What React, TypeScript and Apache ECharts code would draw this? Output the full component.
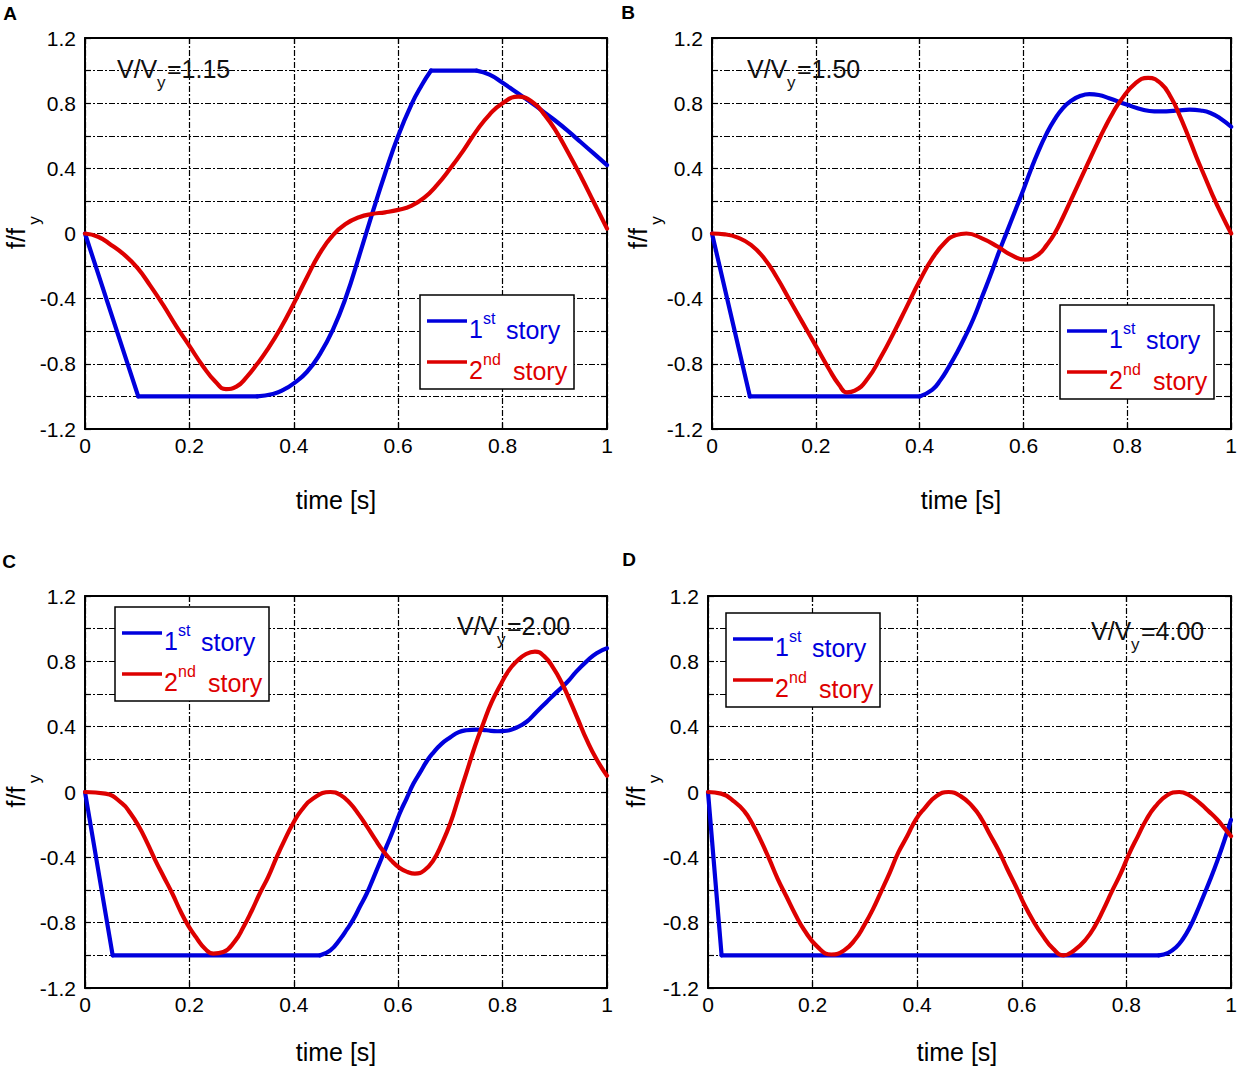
import React, { useEffect, useRef } from "react";
import * as echarts from "echarts";

// ---------- data (time [s], f/fy) ----------
const X_TICK_LABELS = ["0", "0.2", "0.4", "0.6", "0.8", "1"];
const Y_TICK_LABELS = ["-1.2", "-0.8", "-0.4", "0", "0.4", "0.8", "1.2"];
const SERIES_NAMES = ["1st story", "2nd story"];
const PANEL_LETTERS = ["A", "B", "C", "D"];
const RATIOS = ["=1.15", "=1.50", "=2.00", "=4.00"];

// Panel A (V/Vy = 1.15)
const A_STORY1 = [[0, 0], [0.102, -1], [0.33, -1], [0.36, -0.985], [0.38, -0.96], [0.4, -0.92], [0.425, -0.85], [0.45, -0.74], [0.475, -0.59], [0.5, -0.39], [0.525, -0.14], [0.55, 0.12], [0.575, 0.37], [0.6, 0.6], [0.625, 0.79], [0.645, 0.91], [0.663, 1], [0.75, 1], [0.775, 0.975], [0.8, 0.925], [0.825, 0.87], [0.85, 0.815], [0.875, 0.755], [0.9, 0.695], [0.925, 0.63], [0.95, 0.56], [0.975, 0.49], [1, 0.42]];
const A_STORY1_CORNERS = [1, 2, 16, 17];
const A_STORY2 = [[0, 0], [0.025, -0.02], [0.05, -0.07], [0.075, -0.13], [0.1, -0.21], [0.125, -0.32], [0.15, -0.44], [0.175, -0.57], [0.2, -0.69], [0.225, -0.81], [0.25, -0.91], [0.27, -0.955], [0.29, -0.94], [0.31, -0.88], [0.33, -0.8], [0.35, -0.71], [0.375, -0.58], [0.4, -0.43], [0.425, -0.27], [0.45, -0.12], [0.475, -0.01], [0.5, 0.06], [0.525, 0.1], [0.55, 0.12], [0.575, 0.13], [0.6, 0.145], [0.625, 0.17], [0.65, 0.22], [0.675, 0.3], [0.7, 0.4], [0.725, 0.51], [0.75, 0.63], [0.775, 0.73], [0.8, 0.8], [0.83, 0.84], [0.86, 0.8], [0.88, 0.73], [0.9, 0.64], [0.925, 0.5], [0.95, 0.35], [0.975, 0.19], [1, 0.03]];

// Panel B (V/Vy = 1.50)
const B_STORY1 = [[0, 0], [0.073, -1], [0.4, -1], [0.424, -0.96], [0.44, -0.9], [0.456, -0.82], [0.472, -0.73], [0.488, -0.63], [0.504, -0.52], [0.52, -0.39], [0.536, -0.26], [0.552, -0.12], [0.568, 0.01], [0.584, 0.14], [0.6, 0.27], [0.614, 0.39], [0.628, 0.5], [0.644, 0.61], [0.66, 0.7], [0.676, 0.77], [0.692, 0.815], [0.71, 0.845], [0.727, 0.855], [0.745, 0.85], [0.765, 0.83], [0.8, 0.79], [0.83, 0.76], [0.852, 0.75], [0.875, 0.75], [0.897, 0.755], [0.92, 0.76], [0.941, 0.755], [0.96, 0.74], [0.98, 0.705], [1, 0.655]];
const B_STORY1_CORNERS = [1, 2];
const B_STORY2 = [[0, 0], [0.025, -0.005], [0.05, -0.025], [0.075, -0.07], [0.1, -0.15], [0.125, -0.27], [0.15, -0.41], [0.175, -0.55], [0.2, -0.69], [0.225, -0.83], [0.245, -0.93], [0.26, -0.975], [0.275, -0.965], [0.3, -0.89], [0.325, -0.76], [0.35, -0.61], [0.375, -0.45], [0.4, -0.29], [0.425, -0.15], [0.45, -0.05], [0.47, -0.01], [0.49, 0], [0.52, -0.03], [0.55, -0.08], [0.575, -0.13], [0.603, -0.16], [0.628, -0.13], [0.645, -0.07], [0.66, 0], [0.676, 0.1], [0.692, 0.21], [0.708, 0.32], [0.724, 0.43], [0.74, 0.54], [0.756, 0.645], [0.772, 0.74], [0.788, 0.82], [0.815, 0.92], [0.84, 0.955], [0.865, 0.92], [0.885, 0.83], [0.9, 0.73], [0.917, 0.6], [0.933, 0.47], [0.949, 0.35], [0.965, 0.23], [0.981, 0.12], [1, 0]];

// Panel C (V/Vy = 2.00)
const C_STORY1 = [[0, 0], [0.053, -1], [0.45, -1], [0.47, -0.97], [0.489, -0.9], [0.502, -0.84], [0.514, -0.78], [0.527, -0.7], [0.54, -0.62], [0.552, -0.53], [0.565, -0.43], [0.578, -0.33], [0.591, -0.23], [0.603, -0.13], [0.616, -0.04], [0.629, 0.05], [0.642, 0.12], [0.655, 0.19], [0.667, 0.24], [0.683, 0.295], [0.7, 0.335], [0.715, 0.365], [0.731, 0.378], [0.75, 0.382], [0.769, 0.378], [0.79, 0.372], [0.808, 0.375], [0.827, 0.395], [0.846, 0.43], [0.865, 0.49], [0.884, 0.55], [0.903, 0.61], [0.923, 0.67], [0.942, 0.74], [0.961, 0.8], [0.98, 0.85], [1, 0.88]];
const C_STORY1_CORNERS = [1, 2];
const C_STORY2 = [[0, 0], [0.039, -0.01], [0.071, -0.07], [0.087, -0.13], [0.103, -0.21], [0.119, -0.31], [0.135, -0.42], [0.151, -0.52], [0.167, -0.62], [0.183, -0.73], [0.198, -0.82], [0.215, -0.9], [0.23, -0.96], [0.246, -0.99], [0.265, -0.98], [0.288, -0.91], [0.303, -0.83], [0.319, -0.73], [0.335, -0.62], [0.351, -0.52], [0.367, -0.4], [0.383, -0.29], [0.399, -0.19], [0.415, -0.11], [0.437, -0.04], [0.47, 0], [0.49, -0.02], [0.508, -0.07], [0.525, -0.14], [0.54, -0.21], [0.556, -0.29], [0.571, -0.36], [0.587, -0.42], [0.603, -0.465], [0.618, -0.49], [0.632, -0.5], [0.65, -0.48], [0.667, -0.42], [0.683, -0.32], [0.7, -0.19], [0.715, -0.04], [0.731, 0.12], [0.747, 0.28], [0.763, 0.42], [0.779, 0.55], [0.795, 0.65], [0.811, 0.74], [0.827, 0.8], [0.845, 0.845], [0.862, 0.86], [0.88, 0.83], [0.897, 0.76], [0.913, 0.67], [0.929, 0.56], [0.945, 0.44], [0.961, 0.32], [0.98, 0.2], [1, 0.1]];

// Panel D (V/Vy = 4.00)
const D_STORY1 = [[0, 0], [0.026, -1], [0.862, -1], [0.88, -0.985], [0.895, -0.95], [0.908, -0.9], [0.921, -0.83], [0.934, -0.74], [0.947, -0.64], [0.961, -0.53], [0.974, -0.42], [0.987, -0.3], [1, -0.17]];
const D_STORY1_CORNERS = [1, 2];
const D_STORY2 = [[0, 0], [0.025, -0.01], [0.051, -0.06], [0.07, -0.12], [0.084, -0.19], [0.1, -0.29], [0.117, -0.41], [0.133, -0.53], [0.15, -0.64], [0.167, -0.75], [0.183, -0.84], [0.21, -0.95], [0.236, -0.995], [0.26, -0.97], [0.282, -0.9], [0.298, -0.82], [0.315, -0.72], [0.331, -0.61], [0.348, -0.49], [0.364, -0.37], [0.381, -0.27], [0.397, -0.17], [0.414, -0.1], [0.437, -0.025], [0.46, 0], [0.483, -0.025], [0.506, -0.09], [0.522, -0.16], [0.539, -0.26], [0.556, -0.36], [0.572, -0.47], [0.589, -0.58], [0.605, -0.69], [0.622, -0.79], [0.638, -0.87], [0.66, -0.96], [0.68, -1], [0.7, -0.97], [0.723, -0.9], [0.74, -0.82], [0.756, -0.72], [0.772, -0.61], [0.789, -0.5], [0.805, -0.38], [0.822, -0.27], [0.838, -0.17], [0.855, -0.09], [0.878, -0.02], [0.901, 0], [0.92, -0.02], [0.941, -0.07], [0.958, -0.12], [0.974, -0.17], [0.987, -0.22], [1, -0.27]];

// ---------- layout / style ----------
const FONT = '"Liberation Sans", Arial, Helvetica, sans-serif';
const BLUE = "#0000DD";
const RED = "#DD0000";

const PANELS = [
  { left: 85, top: 38, width: 522, height: 391, s1: A_STORY1, c1: A_STORY1_CORNERS, s2: A_STORY2,
    legend: [420, 295], ratio: [117, 69], letter: [10, 13], xTitle: [336, 500], yTitle: 16 },
  { left: 712, top: 38, width: 522, height: 391, s1: B_STORY1, c1: B_STORY1_CORNERS, s2: B_STORY2,
    legend: [1060, 305], ratio: [747, 69], letter: [628, 12], xTitle: [961, 500], yTitle: 638 },
  { left: 85, top: 596, width: 522, height: 392, s1: C_STORY1, c1: C_STORY1_CORNERS, s2: C_STORY2,
    legend: [115, 607], ratio: [457, 626], letter: [9, 561], xTitle: [336, 1052], yTitle: 16 },
  { left: 708, top: 596, width: 523, height: 392, s1: D_STORY1, c1: D_STORY1_CORNERS, s2: D_STORY2,
    legend: [726, 613], ratio: [1091, 631], letter: [629, 559], xTitle: [957, 1052], yTitle: 636 },
];

function splitAt(pts: number[][], corners: number[]) {
  const cuts = [0, ...corners, pts.length - 1];
  const out: number[][][] = [];
  for (let i = 0; i < cuts.length - 1; i++) out.push(pts.slice(cuts[i], cuts[i + 1] + 1));
  return out;
}

function txt(x: number, y: number, text: string, size: number, fill: string, extra: any = {}) {
  const align = extra.align || "left";
  return {
    type: "text",
    x,
    y,
    z: 100,
    rotation: extra.rotation || 0,
    silent: true,
    style: {
      text,
      fill,
      font: `${extra.bold ? "bold " : ""}${size}px ${FONT}`,
      textAlign: align,
      align,
      textVerticalAlign: "middle",
      verticalAlign: "middle",
    },
  };
}

function buildOption() {
  const grid: any[] = [];
  const xAxis: any[] = [];
  const yAxis: any[] = [];
  const series: any[] = [];
  const graphic: any[] = [];

  const frameLine = { show: true, onZero: false, lineStyle: { color: "#000", width: 2 } };
  const tick = { show: true, inside: true, length: 6, lineStyle: { color: "#000", width: 1.2 } };
  const split = { show: true, lineStyle: { color: "#000", width: 1.2, type: [6, 2, 2, 2] } };

  PANELS.forEach((p, i) => {
    grid.push({ left: p.left, top: p.top, width: p.width, height: p.height });
    const xBase = { type: "value", gridIndex: i, min: 0, max: 1, interval: 0.2 };
    const yBase = { type: "value", gridIndex: i, min: -1.2, max: 1.2, interval: 0.2 };
    xAxis.push({
      ...xBase,
      position: "bottom",
      axisLine: frameLine,
      axisTick: tick,
      splitLine: split,
      axisLabel: {
        color: "#000",
        fontSize: 21,
        fontFamily: FONT,
        margin: 6,
        formatter: (v: number) => {
          const k = Math.round(v * 5);
          return X_TICK_LABELS[k] ?? "";
        },
      },
    });
    xAxis.push({
      ...xBase,
      position: "top",
      axisLine: frameLine,
      axisTick: tick,
      splitLine: { show: false },
      axisLabel: { show: false },
    });
    yAxis.push({
      ...yBase,
      position: "left",
      axisLine: frameLine,
      axisTick: tick,
      splitLine: split,
      axisLabel: {
        color: "#000",
        fontSize: 21,
        fontFamily: FONT,
        margin: 9,
        formatter: (v: number) => {
          const k = Math.round(v * 10);
          if (k % 4 !== 0) return "";
          return Y_TICK_LABELS[k / 4 + 3] ?? "";
        },
      },
    });
    yAxis.push({
      ...yBase,
      position: "right",
      axisLine: frameLine,
      axisTick: tick,
      splitLine: { show: false },
      axisLabel: { show: false },
    });

    const curves = [
      { pts: p.s1, corners: p.c1, color: BLUE, name: SERIES_NAMES[0] },
      { pts: p.s2, corners: [] as number[], color: RED, name: SERIES_NAMES[1] },
    ];
    curves.forEach((c) => {
      splitAt(c.pts, c.corners).forEach((seg) => {
        series.push({
          type: "line",
          name: c.name,
          xAxisIndex: 2 * i,
          yAxisIndex: 2 * i,
          data: seg,
          smooth: seg.length > 2 ? 0.5 : false,
          symbol: "none",
          showSymbol: false,
          silent: true,
          z: 5,
          lineStyle: { color: c.color, width: 4.2, cap: "round", join: "round" },
        });
      });
    });

    // panel letter
    graphic.push(txt(p.letter[0], p.letter[1], PANEL_LETTERS[i], 19, "#000", { bold: true, align: "center" }));
    // x title
    graphic.push(txt(p.xTitle[0], p.xTitle[1], "time [s]", 25, "#000", { align: "center" }));
    // y title (rotated) f/f_y
    const cy = p.top + p.height / 2;
    graphic.push(txt(p.yTitle, cy + 5, "f/f", 25, "#000", { align: "center", rotation: Math.PI / 2 }));
    graphic.push(txt(p.yTitle + 18, cy - 13, "y", 17, "#000", { align: "center", rotation: Math.PI / 2 }));
    // V/V_y annotation
    const [rx, ry] = p.ratio;
    graphic.push(txt(rx, ry, "V/V", 25, "#111"));
    graphic.push(txt(rx + 40, ry + 13, "y", 17, "#111"));
    graphic.push(txt(rx + 50, ry, RATIOS[i], 25, "#111"));
    // legend box
    const [lx, ly] = p.legend;
    graphic.push({
      type: "rect",
      z: 100,
      silent: true,
      shape: { x: lx, y: ly, width: 154, height: 94 },
      style: { fill: "#fff", stroke: "#000", lineWidth: 1.5 },
    });
    graphic.push({
      type: "line",
      z: 101,
      silent: true,
      shape: { x1: lx + 7, y1: ly + 26, x2: lx + 47, y2: ly + 26 },
      style: { stroke: BLUE, lineWidth: 3.5 },
    });
    graphic.push({
      type: "line",
      z: 101,
      silent: true,
      shape: { x1: lx + 7, y1: ly + 67, x2: lx + 47, y2: ly + 67 },
      style: { stroke: RED, lineWidth: 3.5 },
    });
    graphic.push(txt(lx + 49, ly + 34, "1", 25, BLUE));
    graphic.push(txt(lx + 63, ly + 23, "st", 16, BLUE));
    graphic.push(txt(lx + 86, ly + 35, "story", 25, BLUE));
    graphic.push(txt(lx + 49, ly + 75, "2", 25, RED));
    graphic.push(txt(lx + 63, ly + 64, "nd", 16, RED));
    graphic.push(txt(lx + 93, ly + 76, "story", 25, RED));
  });

  return {
    animation: false,
    backgroundColor: "#fff",
    textStyle: { fontFamily: FONT },
    grid,
    xAxis,
    yAxis,
    series,
    graphic: { elements: graphic },
  };
}

export default function App() {
  const ref = useRef<HTMLDivElement>(null);
  useEffect(() => {
    document.body.style.margin = "0";
    if (!ref.current) return;
    const chart = echarts.init(ref.current, undefined, { renderer: "svg" });
    chart.setOption(buildOption() as any);
    return () => chart.dispose();
  }, []);
  return <div ref={ref} style={{ width: 1240, height: 1069, background: "#fff" }} />;
}
